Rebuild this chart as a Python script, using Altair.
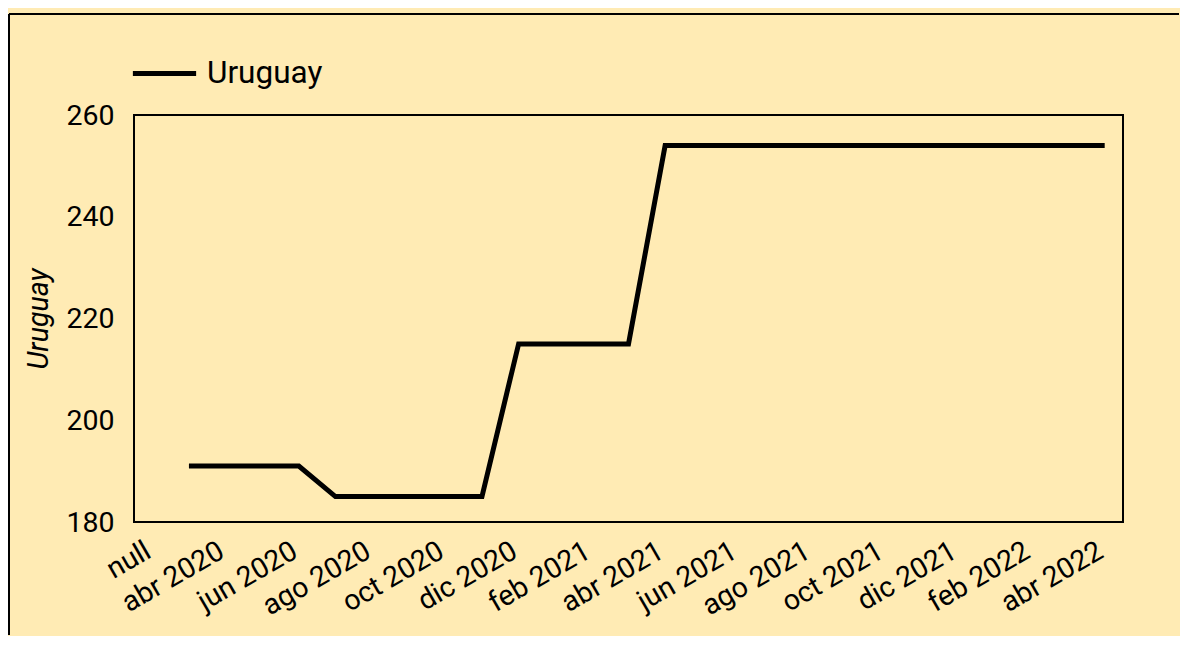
import altair as alt
import pandas as pd

# Categories on the x axis (first one is a literal "null" label)
categories = [
    "null",
    "mar 2020", "abr 2020", "may 2020", "jun 2020", "jul 2020", "ago 2020",
    "sep 2020", "oct 2020", "nov 2020", "dic 2020", "ene 2021", "feb 2021",
    "mar 2021", "abr 2021", "may 2021", "jun 2021", "jul 2021", "ago 2021",
    "sep 2021", "oct 2021", "nov 2021", "dic 2021", "ene 2022", "feb 2022",
    "mar 2022", "abr 2022",
]
uruguay = [
    None,
    191, 191, 191, 191, 185, 185,
    185, 185, 185, 215, 215, 215,
    215, 254, 254, 254, 254, 254,
    254, 254, 254, 254, 254, 254,
    254, 254,
]
tick_labels = [
    "null", "abr 2020", "jun 2020", "ago 2020", "oct 2020", "dic 2020",
    "feb 2021", "abr 2021", "jun 2021", "ago 2021", "oct 2021", "dic 2021",
    "feb 2022", "abr 2022",
]
y_ticks = [180, 200, 220, 240, 260]

df = pd.DataFrame({"mes": categories, "Uruguay": uruguay, "serie": ["Uruguay"] * len(categories)})

FONT = "Roboto"
BG = "#FFEBB4"
AX = 28.5

line = alt.Chart(df).mark_line(strokeWidth=5, strokeJoin="miter").encode(
    x=alt.X(
        "mes:N",
        sort=categories,
        scale=alt.Scale(domain=categories, type="point", padding=0.5),
        axis=alt.Axis(
            title=None,
            values=tick_labels,
            labelAngle=-30,
            labelAlign="right",
            labelBaseline="alphabetic",
            labelOverlap=False,
            labelPadding=34,
            ticks=False,
            domain=False,
            grid=False,
            labelFontSize=AX,
            labelFont=FONT,
            labelColor="black",
        ),
    ),
    y=alt.Y(
        "Uruguay:Q",
        scale=alt.Scale(domain=[180, 260], nice=False, zero=False),
        axis=alt.Axis(
            values=y_ticks,
            title="Uruguay",
            titleFontStyle="italic",
            titleFontWeight="normal",
            titleFont=FONT,
            titleFontSize=AX,
            titleColor="black",
            titlePadding=12,
            ticks=False,
            domain=False,
            grid=False,
            labelPadding=20,
            labelFontSize=AX,
            labelFont=FONT,
            labelColor="black",
        ),
    ),
    color=alt.Color(
        "serie:N",
        scale=alt.Scale(range=["black"]),
        legend=alt.Legend(
            title=None,
            orient="none",
            legendX=-4,
            legendY=-76,
            symbolType="stroke",
            symbolSize=4000,
            symbolStrokeWidth=5,
            labelFontSize=31.5,
            labelFont=FONT,
            labelColor="black",
            labelOffset=8,
        ),
    ),
)

frame_df = pd.DataFrame({"k": [0]})
frame_left = alt.Chart(frame_df).mark_rule(color="black", strokeWidth=2).encode(
    x=alt.value(-125), y=alt.value(-101), y2=alt.value(520)
)
frame_top = alt.Chart(frame_df).mark_rule(color="black", strokeWidth=2).encode(
    x=alt.value(-125), x2=alt.value(1045), y=alt.value(-101)
)

chart = alt.layer(frame_left, frame_top, line).properties(
    width=989,
    height=407,
    background=BG,
    padding={"left": 0, "top": 5, "right": 0, "bottom": 0},
).configure_view(
    stroke="black", strokeWidth=2, fill=BG
)

chart.save("out.html", embed_options={"renderer": "svg", "actions": False})
